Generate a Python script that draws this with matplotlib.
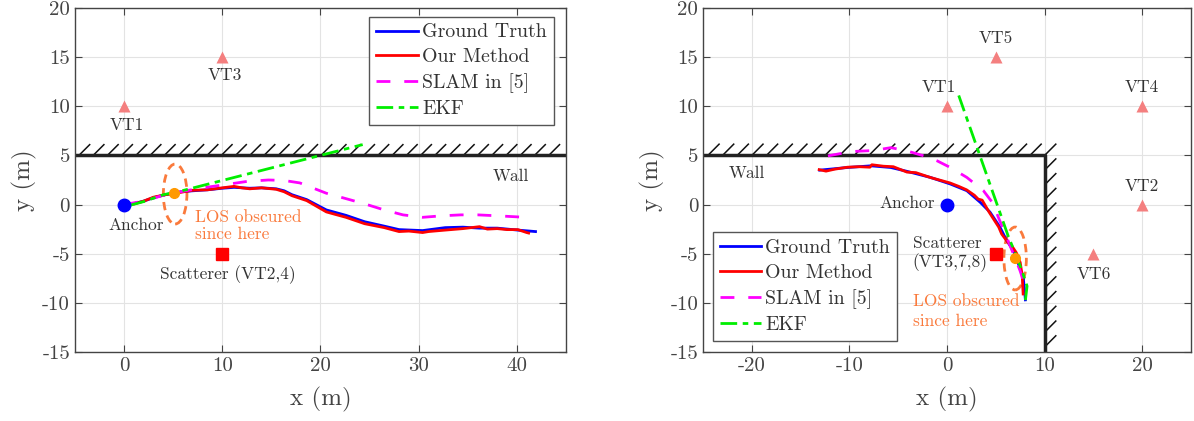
import matplotlib
matplotlib.use("Agg")
import matplotlib.pyplot as plt
import numpy as np
from matplotlib.patches import Ellipse
from matplotlib.collections import LineCollection

plt.rcParams['font.family'] = ['cmr10', 'DejaVu Serif']
plt.rcParams['axes.unicode_minus'] = False

# ---------------- left scenario (single wall) ----------------
gt1_x = [0, 1, 2, 3, 4.2, 5.8, 7, 8.5, 10, 11.2, 12.8, 14, 15.5, 16.3, 17.1, 18.6, 20.6,
         22.6, 24.5, 26.5, 28, 30.4, 32.7, 34.5, 36.2, 38, 40.1, 41.9]
gt1_y = [0, 0.1, 0.35, 0.7, 1.0, 1.3, 1.4, 1.5, 1.66, 1.75, 1.66, 1.7, 1.6, 1.4, 1.0, 0.5, -0.55,
         -1.1, -1.75, -2.2, -2.55, -2.65, -2.35, -2.3, -2.4, -2.4, -2.6, -2.75]

red1_x = [0, 1, 2, 3, 4.2, 5.8, 7, 8.5, 10, 11.2, 12, 12.8, 14, 15.5, 16.3, 17.1, 18.6, 20.6,
          21.5, 22.6, 24.5, 26.5, 28, 29, 30.4, 31, 32.7, 34.5, 36.2, 37, 38, 39, 40.1, 41, 41.2]
red1_y = [0, 0.05, 0.35, 0.75, 1.0, 1.25, 1.45, 1.5, 1.7, 1.85, 1.7, 1.6, 1.7, 1.55, 1.3, 0.9, 0.4, -0.75,
          -1.0, -1.3, -1.95, -2.35, -2.75, -2.7, -2.85, -2.75, -2.6, -2.45, -2.25, -2.5, -2.45, -2.55, -2.55, -2.85, -2.9]

slam1_x = [0, 2, 4.2, 6, 8, 10.8, 12.5, 14.7, 16.3, 17.9, 20.6, 22.6, 24.5, 26.5, 28.4,
           30.4, 32.3, 34.3, 36, 38.1, 40.9]
slam1_y = [0, 0.35, 1.0, 1.35, 1.7, 2.1, 2.35, 2.5, 2.45, 2.2, 1.15, 0.6, 0.07, -0.55, -1.05,
           -1.3, -1.15, -1.05, -1.05, -1.15, -1.3]

ekf1_x = [0.5, 2, 4, 5.5, 24.3]
ekf1_y = [-0.1, 0.3, 1.0, 1.3, 6.1]

vt1_x = [0, 10]
vt1_y = [10, 15]
vt1_names = ['VT1', 'VT3']

# ---------------- right scenario (corner) ----------------
gt2_x = [-13.05, -12, -10.2, -7.8, -5.76, -4.07, -1.7, 0.34, 2.03, 3.39, 4.4, 5.42, 6.1,
         6.78, 7.3, 7.8, 7.97, 8.03]
gt2_y = [3.5, 3.6, 3.77, 3.94, 3.77, 3.37, 2.76, 2.09, 1.41, 0.24, -0.77, -2.29, -3.64,
         -4.65, -6.0, -7.34, -9.0, -9.7]

red2_x = [-13.1, -12.4, -11.5, -10.2, -9, -7.9, -7.7, -6.5, -5.5, -4.1, -3.2, -1.7, 0.3, 1.2,
          2.0, 2.8, 3.2, 3.6, 4.3, 5.3, 5.6, 6.2, 6.7, 7.1, 7.5, 7.7, 7.8]
red2_y = [3.55, 3.4, 3.6, 3.8, 3.85, 3.8, 4.05, 3.9, 3.85, 3.3, 3.25, 2.75, 2.2, 1.85,
          1.5, 0.95, 0.55, 0.45, -0.75, -2.3, -3.0, -3.8, -4.3, -4.9, -5.9, -7.2, -9.1]

slam2_x = [-12.2, -9.83, -7.5, -5.76, -4.07, -2.37, -1.0, 0.34, 2.03, 3.73, 4.75, 5.25,
           6.1, 6.78, 7.46, 7.8]
slam2_y = [4.95, 5.39, 5.5, 5.79, 5.45, 4.95, 4.44, 3.77, 2.76, 1.41, 0.07, -1.28,
           -3.3, -4.98, -6.67, -7.68]

ekf2_x = [1.2, 6.3, 7.1, 7.7, 8.2, 8.0]
ekf2_y = [11.1, -3.3, -5.2, -6.8, -8.3, -10.0]

vt2_x = [0, 5, 20, 20, 15]
vt2_y = [10, 15, 10, 0, -5]
vt2_names = ['VT1', 'VT5', 'VT4', 'VT2', 'VT6']

yticks = [-15, -10, -5, 0, 5, 10, 15, 20]
xticks_left = [0, 10, 20, 30, 40]
xticks_right = [-20, -10, 0, 10, 20]

txt = '#333333'
vt_col = '#f47f7f'
los_col = '#fa7a3c'
fs = 12.5

fig = plt.figure(figsize=(11.94, 4.21), dpi=100)
ax1 = fig.add_axes([0.0628, 0.164, 0.4112, 0.817])
ax2 = fig.add_axes([0.5888, 0.164, 0.4087, 0.817])


def style(ax, xl, xt):
    ax.set_xlim(*xl)
    ax.set_ylim(-15, 20)
    ax.set_xticks(xt)
    ax.set_yticks(yticks)
    ax.grid(True, color='#e3e3e3', lw=0.8)
    ax.set_axisbelow(True)
    ax.tick_params(direction='in', top=True, right=True, length=5, labelsize=15,
                   colors='#444444', labelcolor='#444444', width=0.8)
    for s in ax.spines.values():
        s.set_color('#444444')
        s.set_linewidth(1.0)
    ax.set_xlabel('x (m)', fontsize=18, color='#444444', labelpad=9)
    ax.set_ylabel('y (m)', fontsize=18, color='#444444', labelpad=4)


def legend(ax, **kw):
    leg = ax.legend(fontsize=14.3, handlelength=2.1, handletextpad=0.2, labelspacing=0.35,
                    borderpad=0.35, fancybox=False, framealpha=1, borderaxespad=0, **kw)
    leg.get_frame().set_edgecolor('#555555')
    leg.get_frame().set_linewidth(1.0)
    for t in leg.get_texts():
        t.set_color(txt)


def wall_hatch(ax, starts, d, vertical=False):
    # short diagonal strokes drawn on the outer side of a wall
    if vertical:
        segs = [[(10, s), (10 + d, s + d)] for s in starts]
    else:
        segs = [[(s, 5), (s + d, 5 + d)] for s in starts]
    ax.add_collection(LineCollection(segs, colors='#111111', linewidths=1.1, zorder=2))


# ---- left ----
style(ax1, (-5, 45), xticks_left)
wall_hatch(ax1, np.arange(-4.6, 44.0, 1.45), 1.15)
ax1.axhline(5, color='#222222', lw=2.5)
ax1.plot(gt1_x, gt1_y, color='#0000ff', lw=2, label='Ground Truth')
ax1.plot(red1_x, red1_y, color='#ff0000', lw=2, label='Our Method')
ax1.plot(slam1_x, slam1_y, color='#ff00ff', lw=2, ls=(0, (5, 5)), label='SLAM in [5]')
ax1.plot(ekf1_x, ekf1_y, color='#00ee00', lw=2, ls=(0, (6, 2, 2, 2)), label='EKF')
ax1.plot(vt1_x, vt1_y, '^', color=vt_col, ms=9, mec='none')
for x, y, n in zip(vt1_x, vt1_y, vt1_names):
    ax1.text(x + 0.3, y - 1.9, n, ha='center', va='center', fontsize=fs, color=txt)
ax1.plot(0, 0, 'o', color='#0000ff', ms=9)
ax1.text(1.2, -2.1, 'Anchor', ha='center', va='center', fontsize=fs, color=txt)
ax1.plot(10, -5, 's', color='#ff0000', ms=8)
ax1.text(10.6, -7.1, 'Scatterer (VT2,4)', ha='center', va='center', fontsize=fs, color=txt)
ax1.add_patch(Ellipse((5.2, 1.07), 2.4, 6.1, fill=False, ec=los_col, lw=2, ls=(0, (3, 2))))
ax1.plot(5.1, 1.15, 'o', color='#ff9900', ms=7)
ax1.text(7.2, -2.2, 'LOS obscured\nsince here', ha='left', va='center', fontsize=fs,
         color=los_col, linespacing=1.15)
ax1.text(39.4, 2.9, 'Wall', ha='center', va='center', fontsize=fs, color=txt)
legend(ax1, loc='upper right', bbox_to_anchor=(0.975, 0.975))

# ---- right ----
style(ax2, (-25, 25), xticks_right)
wall_hatch(ax2, np.arange(10.0, -25.5, -1.5), 1.2)
wall_hatch(ax2, np.arange(3.5, -15.5, -1.5), 1.2, vertical=True)
ax2.plot([-25, 10, 10], [5, 5, -15], color='#222222', lw=2.5)
ax2.plot(gt2_x, gt2_y, color='#0000ff', lw=2, label='Ground Truth')
ax2.plot(red2_x, red2_y, color='#ff0000', lw=2, label='Our Method')
ax2.plot(slam2_x, slam2_y, color='#ff00ff', lw=2, ls=(0, (5, 5)), label='SLAM in [5]')
ax2.plot(ekf2_x, ekf2_y, color='#00ee00', lw=2, ls=(0, (6, 2, 2, 2)), label='EKF')
ax2.plot(vt2_x, vt2_y, '^', color=vt_col, ms=9, mec='none')
for x, y, n in zip(vt2_x, vt2_y, vt2_names):
    if n == 'VT6':
        ax2.text(x, y - 2.1, n, ha='center', va='center', fontsize=fs, color=txt)
    elif n == 'VT1':
        ax2.text(x - 0.8, y + 1.9, n, ha='center', va='center', fontsize=fs, color=txt)
    else:
        ax2.text(x, y + 1.9, n, ha='center', va='center', fontsize=fs, color=txt)
ax2.plot(0, 0, 'o', color='#0000ff', ms=9)
ax2.text(-1.2, 0.1, 'Anchor', ha='right', va='center', fontsize=fs, color=txt)
ax2.plot(5, -5, 's', color='#ff0000', ms=8)
ax2.text(-3.5, -5.0, 'Scatterer\n(VT3,7,8)', ha='left', va='center', fontsize=fs, color=txt,
         linespacing=1.15)
ax2.add_patch(Ellipse((6.98, -5.49), 2.3, 6.4, fill=False, ec=los_col, lw=2, ls=(0, (3, 2))))
ax2.plot(6.95, -5.49, 'o', color='#ff9900', ms=7)
ax2.text(-3.5, -10.9, 'LOS obscured\nsince here', ha='left', va='center', fontsize=fs,
         color=los_col, linespacing=1.4)
ax2.text(-20.5, 3.2, 'Wall', ha='center', va='center', fontsize=fs, color=txt)
legend(ax2, loc='lower left', bbox_to_anchor=(0.02, 0.033))

fig.savefig('out.png', dpi=100)
